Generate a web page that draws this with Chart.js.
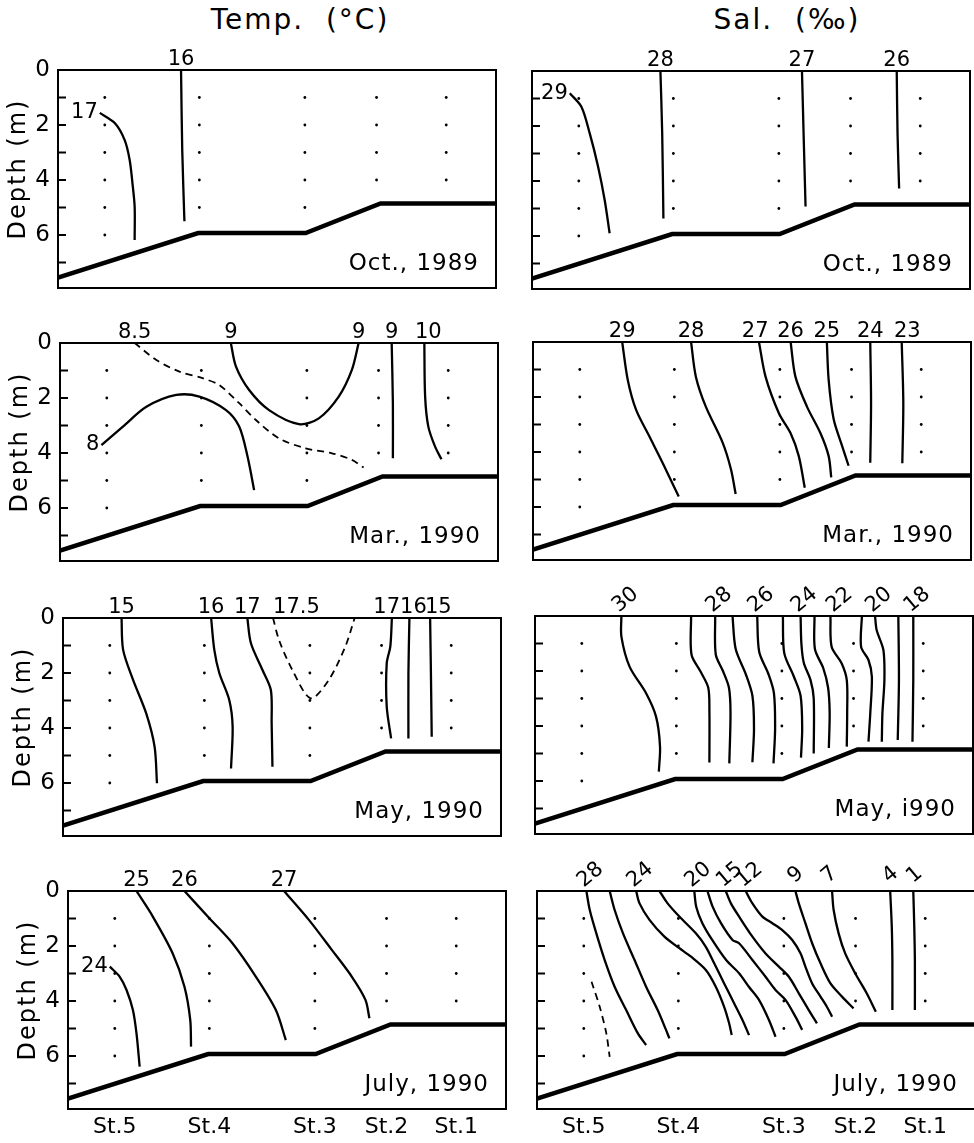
<!DOCTYPE html>
<html>
<head>
<meta charset="utf-8">
<script src="https://cdn.jsdelivr.net/npm/chart.js@4.4.1/dist/chart.umd.min.js"></script>
<style>
  body { margin: 0; background: #fff; }
  #fig { position: relative; width: 974px; height: 1143px; overflow: hidden; font-family: "DejaVu Sans", sans-serif; }
  #fig canvas { position: absolute; }
  .coltitle { position: absolute; top: 6px; width: 400px; text-align: center; font-size: 28px; line-height: 28px; letter-spacing: 2px; white-space: pre; color: #000; }
</style>
</head>
<body>
<div id="fig">
  <div class="coltitle" style="left:100px">Temp.  (°C)</div>
  <div class="coltitle" style="left:587px">Sal.  (‰)</div>
</div>
<script>
// stations along the section (x in relative distance units, 0-110)
const stations = ["St.5", "St.4", "St.3", "St.2", "St.1"];
const stationX = [11.75, 35.5, 62, 80, 97.5];
const stationDepths = [6, 5, 5, 4, 4];      // deepest sampling depth (m)
const depthTicks = [0, 1, 2, 3, 4, 5, 6, 7];

// sea bottom
const bottomX = [0, 35.2, 62.2, 81, 110];
const bottomDepth = [7.55, 5.93, 5.93, 4.85, 4.85];

const tempMonths = ["Oct., 1989", "Mar., 1990", "May, 1990", "July, 1990"];
const salMonths = ["Oct., 1989", "Mar., 1990", "May, i990", "July, 1990"];

// isolines: [distance, depth]
const tempOct = [
  { v: "17", side: 1, pts: [[10.5,1.56],[14.25,1.93],[16.75,2.55],[18,3.27],[18.7,4.12],[19.25,4.97],[19.25,6.18]] },
  { v: "16", pts: [[30.9,0],[31.2,2.9],[31.75,5.5]] },
];
const salOct = [
  { v: "29", side: 1, pts: [[9.5,0.81],[12.4,1.3],[14.5,2.27],[16.6,3.48],[18.25,4.69],[19.5,5.9]] },
  { v: "28", pts: [[32.25,0],[32.7,2.27],[33,5.36]] },
  { v: "27", pts: [[67.8,0],[68.25,2.5],[68.7,4.93]] },
  { v: "26", pts: [[91.6,0],[91.8,2.27],[92.2,4.27]] },
];
const tempMar = [
  { v: "8", side: 1, pts: [[10.4,3.71],[15.8,3.04],[21.7,2.32],[29.2,1.89],[35,1.95],[41.7,2.44],[45,3.04],[47.1,4.13],[48.75,5.35]] },
  { v: "8.5", dash: 1, pts: [[18.75,0],[24.2,0.62],[30,1.04],[35.8,1.28],[40,1.53],[45,2.19],[49.2,2.8],[55,3.47],[61.7,3.83],[68.3,4.01],[73.3,4.25],[76.25,4.53]] },
  { v: "9", end: "9", pts: [[42.9,0],[44.2,0.86],[47.5,1.71],[52.5,2.44],[60,2.95],[65,2.74],[70,1.95],[73.3,0.98],[75,0]] },
  { v: "9", pts: [[83.3,0],[83.6,2.19],[83.6,4.19]] },
  { v: "10", lx: 92.5, pts: [[91.5,0],[91.7,1.95],[92.5,3.04],[94.2,3.77],[95.8,4.23]] },
];
const salMar = [
  { v: "29", pts: [[22.4,0],[23.8,1.38],[25.9,2.47],[29.25,3.44],[32.6,4.41],[36.6,5.62]] },
  { v: "28", pts: [[39.7,0],[40.9,1.26],[43.4,2.35],[47.6,3.65],[49.7,4.62],[50.9,5.53]] },
  { v: "27", lx: 55.8, pts: [[56.75,0],[58.4,1.26],[61.75,2.59],[64.7,3.32],[66.75,4.15],[68.25,5.3]] },
  { v: "26", pts: [[64.7,0],[65.9,1.26],[68.8,2.35],[72.2,3.32],[74.25,4.15],[74.9,4.92]] },
  { v: "25", pts: [[73.8,0],[74.25,1.38],[75.5,2.8],[77.6,3.77],[79.25,4.5]] },
  { v: "24", pts: [[84.7,0],[84.9,2.23],[84.7,4.39]] },
  { v: "23", lx: 94, pts: [[92.6,0],[93,2.23],[92.75,4.41]] },
];
const tempMay = [
  { v: "15", pts: [[14.7,0],[15.1,1.16],[17.6,2.25],[20.9,3.47],[23,4.68],[23.6,6.01]] },
  { v: "16", pts: [[37.2,0],[38,1.16],[39.25,2.0],[41.75,2.98],[42.6,3.95],[42.2,5.47]] },
  { v: "17", pts: [[46.3,0],[47.2,0.92],[50.1,1.89],[52.2,2.62],[52.4,3.83],[52.6,5.41]] },
  { v: "17.5", dash: 1, start: 1, pts: [[52.75,0],[54.25,0.8],[57.6,1.89],[62.2,2.92],[66.75,2.25],[70.9,1.04],[73.25,0]] },
  { v: "17", lx: 81.3, pts: [[82.6,0],[82.2,1.04],[81.3,1.65],[81.3,3.22],[82.4,4.38]] },
  { v: "16", lx: 88, pts: [[87,0],[86.75,2.0],[86.75,4.38]] },
  { v: "15", lx: 94.25, pts: [[92.2,0],[92.4,2.0],[92.6,4.32]] },
];
const salMay = [
  { v: "30", pts: [[21.7,0],[21.7,0.75],[23.75,1.84],[27.9,2.81],[30.4,3.66],[31.4,4.75],[31.1,5.66]] },
  { v: "", pts: [[39.2,0],[39.3,1.4],[41.5,2.0],[43.5,2.6],[43.8,3.4],[43.8,5.33]] },
  { v: "28", pts: [[45.25,0],[45.4,1.4],[47.2,2.0],[48.7,2.6],[49.1,3.5],[48.8,5.36]] },
  { v: "", pts: [[49.6,0],[50.4,1.2],[52.9,2.1],[54.6,2.9],[55,4.1],[54.6,5.32]] },
  { v: "26", pts: [[55.8,0],[56.3,1.3],[58.6,2.1],[60,2.8],[60.3,4.1],[59.9,5.36]] },
  { v: "", pts: [[62.25,0],[62.6,1.35],[65,2.2],[66.7,2.9],[67.1,4.1],[66.8,5.15]] },
  { v: "24", pts: [[66.7,0],[66.9,1.0],[67.5,1.7],[69.2,2.33],[70,3.0],[70,5.0]] },
  { v: "", pts: [[70.2,0],[70.3,1.2],[72.4,1.9],[73.6,2.6],[74,3.5],[73.8,4.8]] },
  { v: "22", lx: 75.5, pts: [[74.2,0],[74.5,1.12],[77,1.72],[78.3,2.33],[78.4,3.5],[78.3,4.75]] },
  { v: "", pts: [[82.1,0],[81.9,1.12],[83.75,1.6],[84.6,2.21],[84.2,3.54],[83.75,4.57]] },
  { v: "20", pts: [[85.4,0],[85.8,0.51],[87.5,1.24],[87.75,2.33],[87.25,3.54],[87.1,4.57]] },
  { v: "", pts: [[91.25,0],[91.4,2.33],[91.1,4.51]] },
  { v: "18", pts: [[95,0],[95,2.33],[94.8,4.57]] },
];
const tempJul = [
  { v: "24", side: 1, pts: [[10.5,2.75],[13,3.12],[14.7,3.6],[16.3,4.33],[17.2,5.18],[18,6.39]] },
  { v: "25", pts: [[17.2,0],[21.3,0.93],[26.3,2.27],[29.25,3.48],[30.7,4.69],[30.9,5.66]] },
  { v: "26", pts: [[29.25,0],[35.5,0.99],[41.3,1.9],[47.2,3.12],[52.2,4.33],[54.7,5.42]] },
  { v: "27", pts: [[54.25,0],[60.5,1.05],[66.3,2.15],[71.3,3.12],[74.7,3.96],[75.7,4.63]] },
];
const salJul = [
  { v: "28", pts: [[12.4,0],[13.25,0.69],[14.9,1.54],[17,2.51],[19.5,3.48],[22.4,4.33],[25.3,5.17],[27.4,5.6]] },
  { v: "", dash: 1, pts: [[13.7,3.3],[15.75,4.21],[17.4,5.17],[18.25,6.03]] },
  { v: "", pts: [[18.25,0],[19.5,0.69],[21.6,1.54],[24.5,2.51],[27.4,3.48],[30.3,4.33],[32.4,5.05],[33.25,5.36]] },
  { v: "24", pts: [[24.9,0],[25.75,0.45],[28.25,1.05],[32,1.66],[35.75,2.08],[38.7,2.39],[42.4,2.87],[44.9,3.48],[47,4.21],[48.25,4.81],[48.9,5.24]] },
  { v: "", pts: [[30.75,0],[32.8,0.45],[35.75,0.93],[39.9,1.54],[42.4,2.03],[44.5,2.63],[47,3.36],[49.5,4.08],[51.6,4.69],[53.25,5.24]] },
  { v: "20", pts: [[39.5,0],[40,0.58],[41.5,1.16],[44,1.78],[47.5,2.51],[50.75,2.99],[53.25,3.49],[55.75,3.96],[58.25,4.69],[59.9,5.3]] },
  { v: "", pts: [[42.8,0],[44.1,0.57],[46.2,1.17],[49.1,1.78],[50.75,1.9],[54.1,2.51],[57.4,3.12],[59.9,3.6],[62.4,3.96],[64.9,4.57],[66.6,5.05]] },
  { v: "15", pts: [[47.4,0],[48.7,0.45],[50.75,0.93],[54.1,1.66],[57.4,2.27],[60.75,2.75],[63.25,3.12],[65.75,3.72],[68.25,4.33],[70.3,4.81]] },
  { v: "12", pts: [[52.4,0],[54.1,0.45],[56.6,0.93],[59.1,1.17],[61.6,1.42],[64.1,1.78],[66.2,2.27],[67.4,2.75],[69.1,3.36],[71.2,3.84],[72.8,4.21],[74.1,4.57]] },
  { v: "9", lx: 64, pts: [[64.9,0],[65.75,0.45],[67.4,1.17],[69.1,1.9],[71.2,2.63],[73.7,3.36],[76.6,3.84],[79.5,4.27]] },
  { v: "7", lx: 72.5, pts: [[74.1,0],[74.5,0.69],[75.75,1.54],[77.4,2.27],[79.9,2.99],[82.8,3.72],[85.1,4.39]] },
  { v: "4", lx: 87.8, pts: [[88.7,0],[89.1,1.3],[89.25,2.51],[89.25,4.33]] },
  { v: "1", lx: 93.8, pts: [[94.5,0],[94.75,1.3],[94.9,2.51],[94.9,4.33]] },
];

// page layout (the scanned panels are slightly skewed)
const boxW = 440, boxH = 218, padTop = 50, axisW = 58, axisH = 34;
const colLeft = [[58, 60, 63, 68], [532, 533, 535, 537]];
const rowTop = [[70, 343, 618, 891], [71, 342, 616, 891]];

const decor = {
  id: "decor",
  afterDatasetsDraw(chart, args, o) {
    const { ctx, chartArea: a, scales: { x, y } } = chart;
    ctx.save();
    ctx.strokeStyle = "#000";
    ctx.fillStyle = "#000";
    ctx.lineWidth = 2;
    ctx.strokeRect(a.left, a.top, a.width, a.height);

    // depth ticks pointing into the box
    ctx.lineWidth = 2;
    depthTicks.forEach(d => {
      if (!d) return;
      const py = y.getPixelForValue(d);
      ctx.beginPath();
      ctx.moveTo(a.left, py);
      ctx.lineTo(a.left + 8, py);
      ctx.stroke();
    });

    // isoline labels
    ctx.font = "21px 'DejaVu Sans'";
    o.lines.forEach(c => {
      if (!c.v) return;
      const p0 = c.pts[0];
      if (c.side) {
        ctx.textAlign = "right";
        ctx.textBaseline = "middle";
        ctx.fillText(c.v, x.getPixelForValue(p0[0]) - 2, y.getPixelForValue(p0[1]));
        return;
      }
      const px = x.getPixelForValue(c.lx ?? p0[0]);
      if (o.tilt) {
        ctx.save();
        ctx.translate(px + 4, a.top - 16);
        ctx.rotate(o.tilt);
        ctx.textAlign = "center";
        ctx.textBaseline = "middle";
        ctx.fillText(c.v, 0, 0);
        ctx.restore();
      } else {
        ctx.textAlign = c.start ? "left" : "center";
        ctx.textBaseline = "alphabetic";
        ctx.fillText(c.v, px, a.top - 5);
      }
      if (c.end) {
        const pe = c.pts[c.pts.length - 1];
        ctx.textAlign = "center";
        ctx.fillText(c.end, x.getPixelForValue(pe[0]), a.top - 5);
      }
    });

    // month
    ctx.font = "23px 'DejaVu Sans'";
    ctx.letterSpacing = "1px";
    ctx.textAlign = "right";
    ctx.textBaseline = "alphabetic";
    ctx.fillText(o.month, a.left + 421, a.top + 200);

    if (o.depthTitle) {
      ctx.save();
      ctx.translate(a.left - 39, a.top + 99);
      ctx.rotate(-Math.PI / 2);
      ctx.font = "24px 'DejaVu Sans'";
      ctx.letterSpacing = "2px";
      ctx.textAlign = "center";
      ctx.textBaseline = "middle";
      ctx.fillText("Depth (m)", 0, 0);
      ctx.restore();
    }
    ctx.restore();
  }
};

function makePanel(col, row, lines, month, tilt) {
  const canvas = document.createElement("canvas");
  const w = axisW + boxW + 2, h = padTop + boxH + axisH;
  canvas.width = w;
  canvas.height = h;
  canvas.style.width = w + "px";
  canvas.style.height = h + "px";
  canvas.style.left = (colLeft[col][row] - axisW) + "px";
  canvas.style.top = (rowTop[col][row] - padTop) + "px";
  document.getElementById("fig").appendChild(canvas);

  const datasets = lines.map(c => ({
    type: "line",
    data: c.pts.map(([x, y]) => ({ x, y })),
    borderColor: "#000",
    borderWidth: c.dash ? 1.8 : 2.3,
    borderDash: c.dash ? [7, 5] : [],
    pointRadius: 0,
    tension: 0.3,
    fill: false,
  }));
  datasets.push({
    type: "line",
    data: bottomX.map((x, i) => ({ x, y: bottomDepth[i] })),
    borderColor: "#000",
    borderWidth: 4.5,
    pointRadius: 0,
    tension: 0,
  });
  const dots = [];
  stationX.forEach((sx, i) => {
    for (let d = 1; d <= stationDepths[i]; d++) dots.push({ x: sx, y: d });
  });
  datasets.push({
    type: "scatter",
    data: dots,
    pointRadius: 1.4,
    backgroundColor: "#000",
    borderWidth: 0,
  });

  const showStations = row === 3;
  new Chart(canvas, {
    type: "scatter",
    data: { datasets },
    options: {
      responsive: false,
      animation: false,
      devicePixelRatio: 1,
      layout: { padding: { top: padTop, right: 2, left: 0, bottom: 0 } },
      plugins: {
        legend: { display: false },
        tooltip: { enabled: false },
        decor: { lines, month, tilt, depthTitle: col === 0 },
      },
      scales: {
        x: {
          type: "linear", min: 0, max: 110,
          grid: { display: false, drawTicks: false },
          border: { display: false },
          afterBuildTicks: s => { s.ticks = stationX.map(v => ({ value: v })); },
          afterFit: s => { s.height = axisH; },
          ticks: {
            autoSkip: false, maxRotation: 0, padding: 5, color: "#000",
            font: { family: "DejaVu Sans", size: 22 },
            callback: (v, i) => showStations ? stations[i] : "",
          },
        },
        y: {
          type: "linear", min: 0, max: boxH / 27.5, reverse: true,
          grid: { display: false, drawTicks: false },
          border: { display: false },
          afterBuildTicks: s => { s.ticks = depthTicks.map(v => ({ value: v })); },
          afterFit: s => { s.width = axisW; },
          ticks: {
            autoSkip: false, padding: 8, color: "#000",
            font: { family: "DejaVu Sans", size: 23 },
            callback: v => (col === 0 && v % 2 === 0) ? String(v) : "",
          },
        },
      },
    },
    plugins: [decor],
  });
}

const tilt = -40 * Math.PI / 180;
makePanel(0, 0, tempOct, tempMonths[0]);
makePanel(1, 0, salOct, salMonths[0]);
makePanel(0, 1, tempMar, tempMonths[1]);
makePanel(1, 1, salMar, salMonths[1]);
makePanel(0, 2, tempMay, tempMonths[2]);
makePanel(1, 2, salMay, salMonths[2], tilt);
makePanel(0, 3, tempJul, tempMonths[3]);
makePanel(1, 3, salJul, salMonths[3], tilt);
</script>
</body>
</html>
